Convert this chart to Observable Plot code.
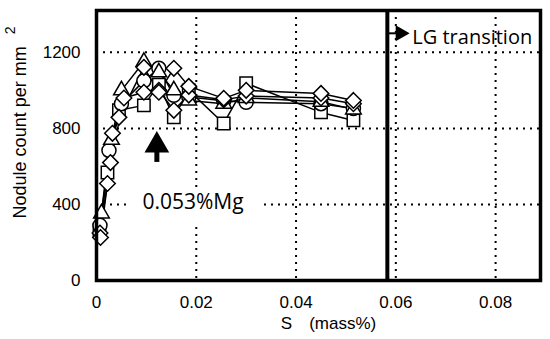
<!DOCTYPE html>
<html>
<head>
<meta charset="utf-8">
<script src="https://cdn.jsdelivr.net/npm/d3@7"></script>
<script src="https://cdn.jsdelivr.net/npm/@observablehq/plot@0.6"></script>
<style>
  html, body { margin: 0; padding: 0; background: white; }
</style>
</head>
<body>
<div id="chart"></div>
<script>
// ---- data ----
const xTicks = [0, 0.02, 0.04, 0.06, 0.08];
const yTicks = [0, 400, 800, 1200];

const squareS = [0.0006, 0.0022, 0.0045, 0.0095, 0.0125, 0.0155, 0.0185, 0.0255, 0.030, 0.045, 0.0515];
const squareN = [263, 568, 895, 921, 1030, 858, 1000, 826, 1037, 884, 842];

const circleS = [0.0007, 0.0025, 0.005, 0.0095, 0.0125, 0.0155, 0.0185, 0.0255, 0.030, 0.045, 0.0515];
const circleN = [290, 684, 930, 1050, 1116, 974, 965, 945, 937, 930, 905];

const triangleS = [0.001, 0.003, 0.005, 0.0095, 0.0125, 0.0155, 0.0185, 0.0255, 0.030, 0.045, 0.0515];
const triangleN = [353, 740, 1000, 1150, 1095, 1000, 947, 930, 960, 940, 900];

const diamondAS = [0.0008, 0.0022, 0.0032, 0.0045, 0.0095, 0.0125, 0.0155, 0.0185, 0.0255, 0.030, 0.045, 0.0515];
const diamondAN = [226, 510, 774, 858, 1121, 990, 1116, 1021, 958, 1000, 984, 947];

const diamondBS = [0.0007, 0.0028, 0.0055, 0.0095, 0.0125, 0.0155, 0.0185, 0.0255, 0.030, 0.045, 0.0515];
const diamondBN = [250, 620, 960, 990, 1000, 895, 975, 950, 970, 960, 930];

const lgS = 0.0583;          // LG transition line
const lgArrowY = 1300;
const lgLabel = "LG transition";
const mgLabel = "0.053%Mg";
const mgArrowS = 0.0121;
const mgArrowTipN = 711;
const mgArrowStem = [684, 621];

const toRows = (S, N) => S.map((s, i) => ({S: s, N: N[i]}));
const series = [
  {rows: toRows(squareS, squareN), symbol: "square", r: 7},
  {rows: toRows(circleS, circleN), symbol: "circle", r: 7},
  {rows: toRows(triangleS, triangleN), symbol: "triangle", r: 5.8},
  {rows: toRows(diamondBS, diamondBN), symbol: "diamond2", r: 7},
  {rows: toRows(diamondAS, diamondAN), symbol: "diamond2", r: 7}
];

const dash = "2,5";
const marks = [
  Plot.ruleY(yTicks.filter(d => d > 0), {stroke: "black", strokeWidth: 2, strokeDasharray: dash}),
  Plot.ruleX(xTicks.filter(d => d > 0), {stroke: "black", strokeWidth: 2, strokeDasharray: dash}),
  // white gaps in the gridlines behind the Mg label
  Plot.ruleY([400], {x1: 0.0068, x2: 0.0332, stroke: "white", strokeWidth: 6}),
  Plot.ruleX([0.02], {y1: 290, y2: 480, stroke: "white", strokeWidth: 6}),
];
for (const s of series) {
  marks.push(Plot.line(s.rows, {x: "S", y: "N", stroke: "black", strokeWidth: 1.5}));
}
for (const s of series) {
  marks.push(Plot.dot(s.rows, {x: "S", y: "N", symbol: s.symbol, r: s.r, fill: "white", stroke: "black", strokeWidth: 1.5}));
}
marks.push(
  Plot.ruleX([lgS], {stroke: "black", strokeWidth: 4}),
  Plot.ruleY([lgArrowY], {x1: lgS, x2: 0.0605, stroke: "black", strokeWidth: 2}),
  Plot.dot([{S: 0.0609, N: lgArrowY}], {x: "S", y: "N", symbol: "triangle", r: 5, rotate: 90, fill: "black", stroke: "black"}),
  Plot.text([lgLabel], {x: 0.0633, y: lgArrowY - 20, text: d => d, textAnchor: "start", fontFamily: "Open Sans", fontSize: 20, fill: "black"}),
  Plot.ruleX([mgArrowS], {y1: mgArrowStem[1], y2: mgArrowStem[0], stroke: "black", strokeWidth: 5}),
  Plot.dot([{S: mgArrowS, N: mgArrowTipN}], {x: "S", y: "N", symbol: "triangle", r: 8.2, fill: "black", stroke: "black"}),
  Plot.text([mgLabel], {x: 0.0092, y: 412, text: d => d, textAnchor: "start", fontFamily: "Open Sans", fontSize: 21, fill: "black"}),
  Plot.frame({stroke: "black", strokeWidth: 3.5}),
  Plot.axisX({ticks: xTicks, tickSize: 0, tickPadding: 15, label: null, tickFormat: d => d === 0 ? "0" : d.toFixed(2)}),
  Plot.axisY({ticks: yTicks, tickSize: 0, tickPadding: 16, label: null, tickFormat: d => String(d)}),
  Plot.text(["S\u2003(mass%)"], {frameAnchor: "bottom", dx: 10, dy: 48, text: d => d, fontSize: 17, fill: "black"}),
  Plot.text(["Nodule count per mm"], {x: 0, y: 779, dx: -76, rotate: -90, text: d => d, fontSize: 18, fill: "black"}),
  Plot.text(["2"], {x: 0, y: 1315, dx: -86, rotate: -90, text: d => d, fontSize: 14, fill: "black"})
);

const chart = Plot.plot({
  width: 550,
  height: 339,
  marginLeft: 96,
  marginRight: 10,
  marginTop: 10,
  marginBottom: 59,
  x: {domain: [0, 0.089]},
  y: {domain: [0, 1420]},
  style: {fontFamily: "Liberation Sans, Arial, sans-serif", fontSize: "17px", background: "white", color: "black"},
  marks
});
document.getElementById("chart").appendChild(chart);
</script>
</body>
</html>
